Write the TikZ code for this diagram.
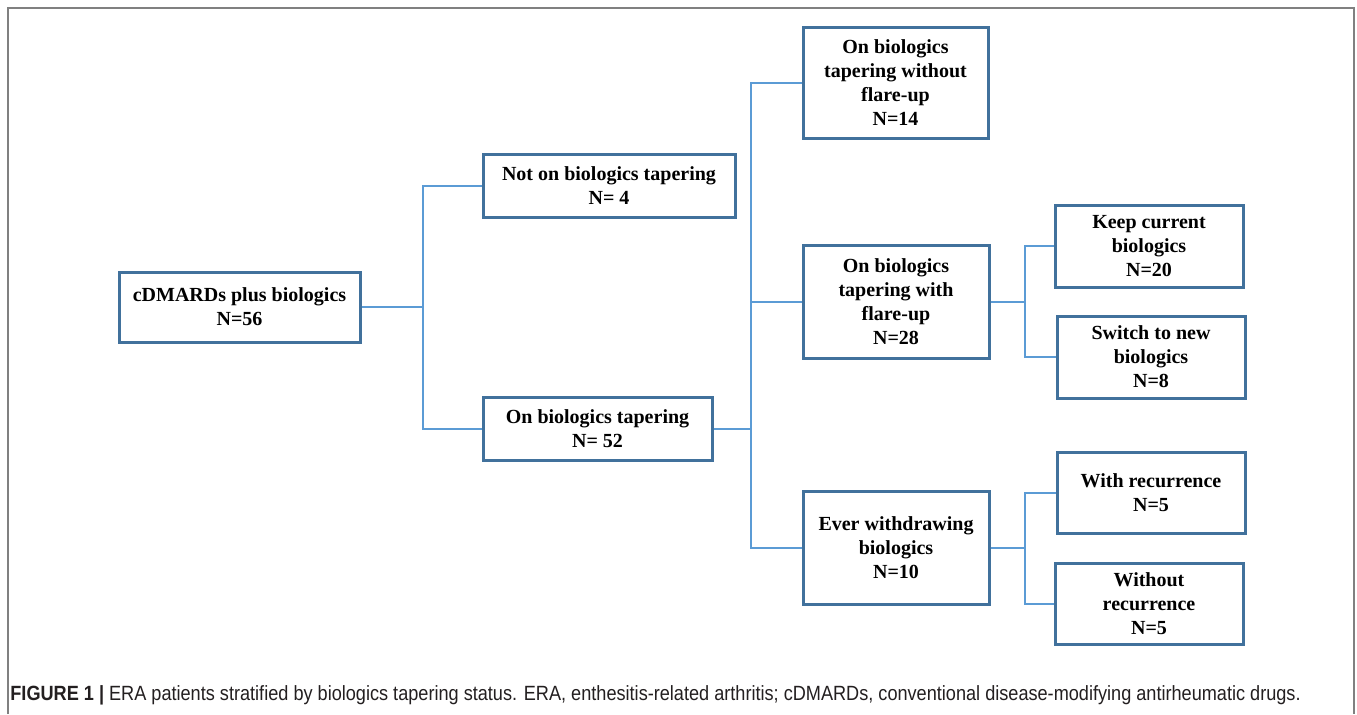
\documentclass[tikz,border=0pt]{standalone}
\usepackage{fontspec}
\setmainfont{Liberation Serif}
\newfontfamily\capfont[FakeStretch=0.88]{Liberation Sans}
\usetikzlibrary{calc}
\definecolor{boxblue}{HTML}{41719C}
\definecolor{linkblue}{HTML}{5B9BD5}
\definecolor{framegray}{HTML}{808080}
\definecolor{captext}{HTML}{231F20}

\begin{document}
\begin{tikzpicture}[x=0.5pt,y=-0.5pt,
        box/.style={draw=boxblue,line width=1.5pt,align=center,inner sep=0pt,
            font=\bfseries\fontsize{10}{12}\selectfont},
        link/.style={draw=linkblue,line width=1pt}]
            \useasboundingbox (0,0) rectangle (1357,714);
            \draw[framegray,line width=1pt] (8,714) -- (8,8) -- (1354,8) -- (1354,714);

            % first level
            \node[box,minimum width=120.5pt,minimum height=35pt] (root) at (239.5,307) {cDMARDs plus biologics\\N=56};
            \node[box,minimum width=126pt,minimum height=31.5pt] (notbio) at (609,185.5) {Not on biologics tapering\\N= 4};
            \node[box,minimum width=114.5pt,minimum height=31.5pt] (onbio) at (597.5,428.5) {On biologics tapering\\N= 52};

            % second level
            \node[box,minimum width=92.5pt,minimum height=55.5pt] (noflare) at (895.5,82.5) {On biologics\\tapering without\\flare-up\\N=14};
            \node[box,minimum width=93pt,minimum height=56.5pt] (flare) at (896,301.5) {On biologics\\tapering with\\flare-up\\N=28};
            \node[box,minimum width=93pt,minimum height=56.5pt] (withdraw) at (896,547.5) {Ever withdrawing\\biologics\\N=10};

            % third level
            \node[box,minimum width=94pt,minimum height=41pt] (keep) at (1149,246) {Keep current\\biologics\\N=20};
            \node[box,minimum width=94pt,minimum height=41pt] (switch) at (1151,357) {Switch to new\\biologics\\N=8};
            \node[box,minimum width=94pt,minimum height=40.5pt] (recur) at (1151,492.5) {With recurrence\\N=5};
            \node[box,minimum width=94pt,minimum height=40.5pt] (norecur) at (1149,603.5) {Without\\recurrence\\N=5};

            % elbows
            \coordinate (j1) at ($(root.east)+(61,0)$);
            \coordinate (j2) at ($(onbio.east)+(37,0)$);
            \coordinate (j3) at ($(flare.east)+(34,0)$);
            \coordinate (j4) at ($(withdraw.east)+(34,0)$);

            \draw[link] (root.east) -- (j1) |- (notbio.west);
            \draw[link] (j1) |- (onbio.west);
            \draw[link] (onbio.east) -- (j2) |- (noflare.west);
            \draw[link] (j2) |- (flare.west);
            \draw[link] (j2) |- (withdraw.west);
            \draw[link] (flare.east) -- (j3) |- (keep.west);
            \draw[link] (j3) |- (switch.west);
            \draw[link] (withdraw.east) -- (j4) |- (recur.west);
            \draw[link] (j4) |- (norecur.west);

            \node[anchor=base west,inner sep=0pt,text=captext,font=\capfont\fontsize{10.3}{12}\selectfont] (caption) at (10,700)
                {\textbf{FIGURE 1 |} ERA patients stratified by biologics tapering status. ERA, enthesitis-related arthritis; cDMARDs, conventional disease-modifying antirheumatic drugs.};
        \end{tikzpicture}
\end{document}
